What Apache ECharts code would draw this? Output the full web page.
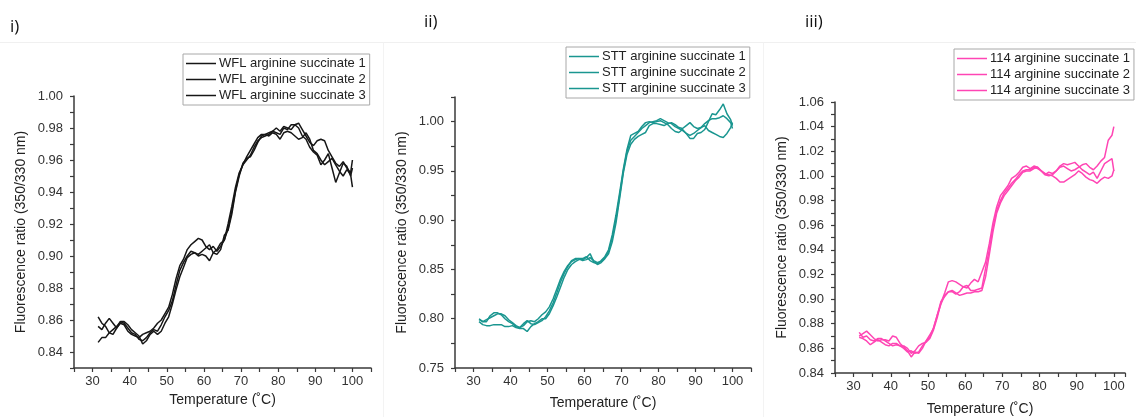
<!DOCTYPE html>
<html><head><meta charset="utf-8">
<script src="https://cdn.jsdelivr.net/npm/echarts@6/dist/echarts.min.js"></script>
<style>html,body{margin:0;padding:0;background:#fff}#c{width:1136px;height:417px}</style>
</head><body><div id="c"></div>
<script>
const temps = [31.5,32.5,33.5,34.5,35.5,36.5,37.5,38.5,39.5,40.5,41.5,42.5,43.5,44.5,45.5,46.5,47.5,48.5,49.5,50.5,51.5,52.5,53.5,54.5,55.5,56.5,57.5,58.5,59.5,60.5,61.5,62.5,63.5,64.5,65.5,66.5,67.5,68.5,69.5,70.5,71.5,72.5,73.5,74.5,75.5,76.5,77.5,78.5,79.5,80.5,81.5,82.5,83.5,84.5,85.5,86.5,87.5,88.5,89.5,90.5,91.5,92.5,93.5,94.5,95.5,96.5,97.5,98.5,99.5,100];

const panelTitles = ['i)', 'ii)', 'iii)'];
const wflNames = ['WFL arginine succinate 1','WFL arginine succinate 2','WFL arginine succinate 3'];
const sttNames = ['STT arginine succinate 1','STT arginine succinate 2','STT arginine succinate 3'];
const p114Names = ['114 arginine succinate 1','114 arginine succinate 2','114 arginine succinate 3'];

const wfl1 = [0.862,0.858,0.856,0.852,0.851,0.855,0.858,0.857,0.853,0.851,0.850,0.849,0.851,0.852,0.853,0.855,0.858,0.860,0.864,
 0.868,0.876,0.886,0.894,0.898,0.904,0.907,0.909,0.911,0.910,0.906,0.904,0.906,0.903,0.906,0.910,0.917,0.928,0.941,0.951,0.957,0.962,0.966,0.970,0.974,0.976,0.976,0.977,0.978,0.980,0.978,0.981,0.980,0.979,0.982,0.983,0.979,0.975,0.971,0.969,0.972,0.973,0.972,0.966,0.962,0.958,0.956,0.959,0.955,0.952,0.960];
const wfl2 = [0.856,0.854,0.858,0.861,0.858,0.855,0.859,0.858,0.855,0.852,0.851,0.848,0.847,0.849,0.852,0.854,0.853,0.857,0.862,
 0.866,0.872,0.882,0.891,0.896,0.900,0.903,0.902,0.901,0.903,0.905,0.907,0.902,0.901,0.904,0.913,0.916,0.926,0.940,0.950,0.958,0.961,0.962,0.966,0.971,0.975,0.976,0.975,0.977,0.976,0.973,0.977,0.978,0.977,0.975,0.973,0.974,0.977,0.973,0.966,0.964,0.960,0.957,0.959,0.961,0.957,0.953,0.950,0.954,0.951,0.943];
const wfl3 = [0.846,0.849,0.849,0.852,0.854,0.856,0.859,0.859,0.857,0.854,0.852,0.850,0.845,0.847,0.851,0.853,0.851,0.853,0.858,
 0.862,0.870,0.879,0.887,0.893,0.899,0.901,0.902,0.900,0.901,0.900,0.897,0.902,0.904,0.908,0.910,0.920,0.931,0.943,0.952,0.957,0.960,0.963,0.968,0.972,0.974,0.975,0.976,0.978,0.977,0.976,0.980,0.979,0.982,0.982,0.980,0.975,0.973,0.968,0.965,0.963,0.957,0.960,0.964,0.955,0.946,0.952,0.958,0.956,0.950,0.955];

const stt1 = [0.800,0.797,0.797,0.803,0.806,0.806,0.804,0.800,0.797,0.795,0.792,0.791,0.793,0.797,0.798,0.797,0.800,0.804,0.807,
 0.812,0.820,0.830,0.840,0.848,0.854,0.858,0.860,0.861,0.861,0.863,0.859,0.857,0.856,0.859,0.863,0.870,0.885,0.905,0.928,0.952,0.972,0.986,0.988,0.990,0.995,0.999,1.000,0.999,1.000,1.001,0.999,0.997,0.993,0.990,0.989,0.992,0.988,0.986,0.988,0.991,0.994,0.998,1.001,1.003,1.003,1.004,1.006,1.003,0.999,0.993];
const stt2 = [0.797,0.794,0.793,0.793,0.794,0.794,0.794,0.792,0.792,0.793,0.791,0.790,0.790,0.787,0.792,0.795,0.797,0.800,0.800,
 0.805,0.813,0.822,0.832,0.842,0.850,0.855,0.858,0.860,0.860,0.862,0.866,0.858,0.855,0.857,0.861,0.866,0.878,0.897,0.922,0.948,0.967,0.977,0.982,0.985,0.987,0.989,0.996,0.998,0.998,0.997,0.996,0.998,0.999,0.997,0.994,0.993,0.996,0.999,0.995,0.993,0.994,0.996,0.991,0.989,0.987,0.985,0.984,0.988,0.994,0.999];
const stt3 = [0.799,0.797,0.799,0.801,0.803,0.805,0.805,0.803,0.799,0.796,0.793,0.791,0.795,0.798,0.795,0.794,0.796,0.798,0.802,
 0.808,0.816,0.826,0.837,0.846,0.853,0.859,0.861,0.861,0.859,0.860,0.862,0.859,0.857,0.858,0.862,0.868,0.882,0.901,0.925,0.950,0.970,0.981,0.985,0.989,0.993,0.996,0.999,1.000,1.001,1.003,1.001,0.999,0.998,0.995,0.993,0.991,0.988,0.983,0.983,0.988,0.989,0.992,1.000,1.008,1.007,1.012,1.018,1.008,1.002,0.996];

const p114a = [0.873,0.869,0.870,0.867,0.866,0.868,0.868,0.866,0.864,0.862,0.863,0.862,0.862,0.860,0.856,0.858,0.862,0.864,0.865,
 0.868,0.875,0.885,0.897,0.905,0.914,0.915,0.914,0.912,0.910,0.909,0.913,0.916,0.914,0.922,0.930,0.945,0.962,0.975,0.984,0.988,0.992,0.998,1.000,1.003,1.007,1.008,1.006,1.008,1.007,1.004,1.001,1.003,1.002,1.004,1.008,1.010,1.009,1.010,1.011,1.008,1.005,1.003,1.001,1.003,0.998,1.004,1.010,1.012,1.014,1.004];
const p114b = [0.870,0.872,0.874,0.871,0.868,0.866,0.867,0.867,0.866,0.870,0.869,0.864,0.861,0.858,0.853,0.857,0.856,0.860,0.866,
 0.869,0.877,0.887,0.896,0.903,0.906,0.906,0.904,0.906,0.910,0.911,0.907,0.907,0.908,0.909,0.925,0.940,0.958,0.972,0.980,0.986,0.990,0.994,0.997,1.001,1.004,1.005,1.005,1.007,1.006,1.004,1.002,1.001,1.000,0.998,0.995,0.995,0.997,0.999,1.001,1.004,1.002,0.999,0.997,0.996,0.994,0.997,0.999,0.998,1.000,1.005];
const p114c = [0.869,0.868,0.866,0.863,0.865,0.867,0.865,0.863,0.862,0.864,0.864,0.862,0.860,0.857,0.858,0.856,0.857,0.862,0.866,
 0.871,0.876,0.887,0.898,0.902,0.906,0.907,0.905,0.903,0.904,0.905,0.905,0.906,0.906,0.907,0.918,0.936,0.955,0.970,0.978,0.984,0.988,0.992,0.996,0.999,1.003,1.004,1.004,1.006,1.007,1.004,1.001,1.000,1.001,1.004,1.007,1.008,1.006,1.004,1.005,1.007,1.009,1.010,1.007,1.005,1.008,1.012,1.015,1.029,1.033,1.040];

const xTitle = 'Temperature (˚C)';
const yTitle = 'Fluorescence ratio (350/330 nm)';

const FONT = '"Liberation Sans", Arial, sans-serif';
const AX = '#3a3a3a';
const colors = ['#161616', '#1a9690', '#ff45b4'];

const grids = [
  {left: 74, top: 96, width: 297, height: 272, outerBoundsMode: 'none', containLabel: false},
  {left: 455, top: 97, width: 296, height: 271, outerBoundsMode: 'none', containLabel: false},
  {left: 835, top: 102, width: 290, height: 271, outerBoundsMode: 'none', containLabel: false}
];
const yCfg = [
  {min: 0.83, max: 1.00, interval: 0.01, step: 2, unit: 100, dec: 2},
  {min: 0.75, max: 1.025, interval: 0.025, step: 2, unit: 40, dec: 2},
  {min: 0.84, max: 1.06, interval: 0.01, step: 2, unit: 100, dec: 2}
];
const xMax = [105, 105, 103];
const xGap = [17, 28, 29];
const legendPos = [{left: 183, top: 54}, {left: 566, top: 47}, {left: 954, top: 49}];

const chart = echarts.init(document.getElementById('c'), null, {renderer: 'canvas'});

const xAxes = [], yAxes = [], series = [], legends = [];
const groups = [[wfl1, wfl2, wfl3], [stt1, stt2, stt3], [p114a, p114b, p114c]];
const names = [wflNames, sttNames, p114Names];

for (let p = 0; p < 3; p++) {
  xAxes.push({
    type: 'value', gridIndex: p, min: 25, max: xMax[p], interval: 5,
    name: xTitle, nameLocation: 'middle', nameGap: xGap[p],
    nameTextStyle: {fontFamily: FONT, fontSize: 14, color: '#222'},
    axisLine: {show: true, lineStyle: {color: AX, width: 1.5}},
    axisTick: {show: true, inside: false, length: 4, lineStyle: {color: AX, width: 1.2}},
    splitLine: {show: false},
    axisLabel: {
      fontFamily: FONT, fontSize: 13, color: '#333', margin: 7,
      formatter: v => (Math.round(v) % 10 === 0 && v <= 100 && v >= 30) ? String(Math.round(v)) : ''
    }
  });
  const c = yCfg[p];
  yAxes.push({
    type: 'value', gridIndex: p, min: c.min, max: c.max, interval: c.interval,
    name: yTitle, nameLocation: 'middle', nameGap: 46, nameRotate: 90,
    nameTextStyle: {fontFamily: FONT, fontSize: 14, color: '#222'},
    axisLine: {show: true, lineStyle: {color: AX, width: 1.5}},
    axisTick: {show: true, inside: false, length: 4, lineStyle: {color: AX, width: 1.2}},
    splitLine: {show: false},
    axisLabel: {
      fontFamily: FONT, fontSize: 13, color: '#333', margin: 11,
      formatter: v => (Math.round(v * c.unit) % c.step === 0) ? v.toFixed(c.dec) : ''
    }
  });
  legends.push(Object.assign({
    data: names[p], orient: 'vertical', icon: 'path://M0,0 H30 V1.5 H0 Z',
    itemWidth: 30, itemHeight: 1.5, itemGap: 3, itemStyle: {borderWidth: 0},
    borderColor: '#a8a8a8', borderWidth: 1, borderRadius: 0, padding: [3, 4, 3, 3],
    textStyle: {fontFamily: FONT, fontSize: 13, lineHeight: 13, color: '#222', padding: [0, 0, 0, -2]},
    backgroundColor: '#fff'
  }, legendPos[p]));
  for (let s = 0; s < 3; s++) {
    series.push({
      type: 'line', name: names[p][s], xAxisIndex: p, yAxisIndex: p,
      data: temps.map((t, i) => [t, groups[p][s][i]]),
      symbol: 'none', smooth: false, animation: false,
      lineStyle: {color: colors[p], width: 1.5},
      itemStyle: {color: colors[p]}
    });
  }
}

chart.setOption({
  backgroundColor: '#fff',
  animation: false,
  grid: grids,
  xAxis: xAxes,
  yAxis: yAxes,
  legend: legends,
  series: series,
  graphic: [
    {type: 'line', shape: {x1: 0, y1: 42.5, x2: 1136, y2: 42.5}, style: {stroke: '#f0f0f0', lineWidth: 1}},
    {type: 'line', shape: {x1: 383.5, y1: 42.5, x2: 383.5, y2: 417}, style: {stroke: '#f3f3f3', lineWidth: 1}},
    {type: 'line', shape: {x1: 763.5, y1: 42.5, x2: 763.5, y2: 417}, style: {stroke: '#f3f3f3', lineWidth: 1}},
    {type: 'text', left: 10, top: 19, style: {text: panelTitles[0], font: '17px "Open Sans", sans-serif', fill: '#111'}},
    {type: 'text', left: 424, top: 14, style: {text: panelTitles[1], font: '17px "Open Sans", sans-serif', fill: '#111'}},
    {type: 'text', left: 805, top: 14, style: {text: panelTitles[2], font: '17px "Open Sans", sans-serif', fill: '#111'}}
  ]
});
</script>
</body></html>
